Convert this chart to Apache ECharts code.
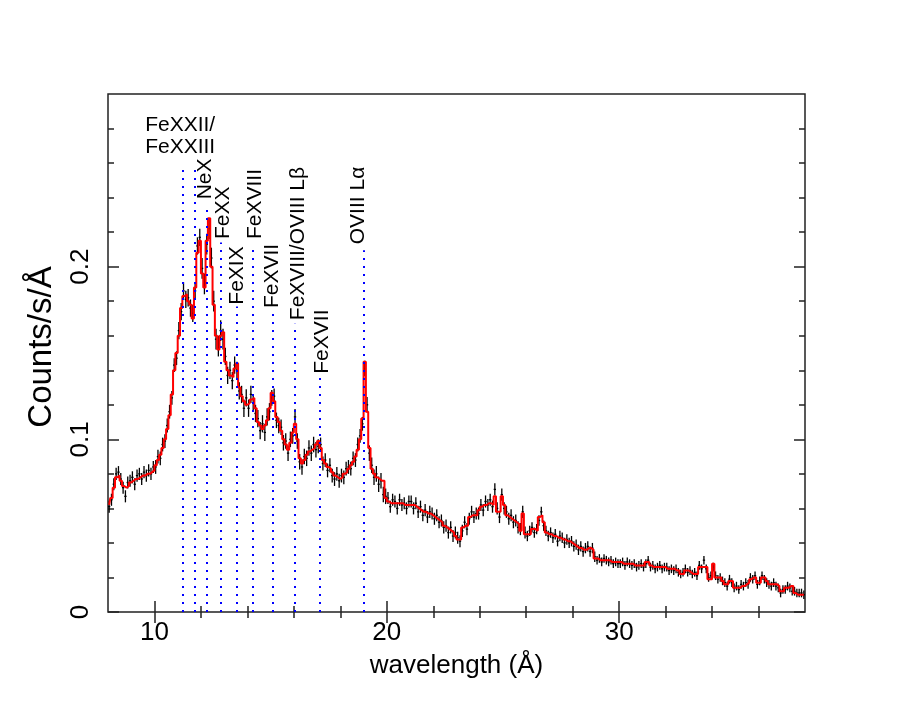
<!DOCTYPE html>
<html>
<head>
<meta charset="utf-8">
<script src="https://cdn.jsdelivr.net/npm/echarts@6/dist/echarts.min.js"></script>
<style>
  html, body { margin: 0; background: #fff; }
  #chart { width: 913px; height: 706px; }
</style>
</head>
<body>
<div id="chart"></div>
<script>
// spectral bins: 0.1 A wide, starting at 8.0 A (one row per Angstrom)
const binStart = 8.0
const binWidth = 0.1

// observed counts/s/A, one row per Angstrom (8..37)
const countsRows = [
  [0.061,0.065,0.074,0.080,0.081,0.077,0.072,0.067,0.075,0.076],
  [0.078,0.074,0.079,0.080,0.077,0.081,0.079,0.082,0.080,0.084],
  [0.084,0.090,0.089,0.097,0.099,0.108,0.116,0.124,0.143,0.147],
  [0.163,0.174,0.186,0.181,0.182,0.176,0.173,0.186,0.212,0.217],
  [0.199,0.190,0.213,0.222,0.205,0.180,0.158,0.154,0.163,0.158],
  [0.148,0.137,0.140,0.134,0.143,0.140,0.128,0.126,0.118,0.124],
  [0.118,0.126,0.121,0.115,0.112,0.105,0.109,0.104,0.113,0.116],
  [0.124,0.125,0.111,0.108,0.107,0.098,0.099,0.092,0.100,0.102],
  [0.113,0.099,0.087,0.084,0.090,0.089,0.095,0.092,0.097,0.094],
  [0.096,0.097,0.086,0.088,0.082,0.085,0.079,0.077,0.080,0.076],
  [0.079,0.078,0.083,0.084,0.083,0.089,0.088,0.097,0.102,0.109],
  [0.141,0.120,0.092,0.085,0.078,0.080,0.074,0.076,0.068,0.067],
  [0.066,0.061,0.065,0.064,0.060,0.065,0.062,0.063,0.060,0.064],
  [0.064,0.060,0.063,0.058,0.061,0.056,0.059,0.055,0.058,0.057],
  [0.054,0.056,0.052,0.053,0.049,0.050,0.046,0.049,0.044,0.046],
  [0.043,0.041,0.047,0.052,0.048,0.054,0.058,0.055,0.057,0.057],
  [0.062,0.059,0.064,0.062,0.065,0.061,0.071,0.060,0.055,0.068],
  [0.060,0.058,0.054,0.056,0.052,0.053,0.049,0.048,0.058,0.046],
  [0.044,0.047,0.049,0.046,0.048,0.053,0.058,0.050,0.047,0.044],
  [0.046,0.043,0.045,0.041,0.044,0.043,0.040,0.042,0.040,0.041],
  [0.038,0.039,0.036,0.038,0.035,0.037,0.038,0.035,0.037,0.032],
  [0.030,0.031,0.029,0.031,0.030,0.029,0.030,0.028,0.029,0.028],
  [0.028,0.029,0.027,0.029,0.028,0.027,0.028,0.026,0.027,0.028],
  [0.026,0.028,0.030,0.026,0.027,0.025,0.026,0.027,0.025,0.026],
  [0.026,0.024,0.025,0.024,0.025,0.023,0.022,0.023,0.025,0.023],
  [0.024,0.022,0.023,0.021,0.027,0.025,0.030,0.025,0.020,0.021],
  [0.026,0.021,0.019,0.020,0.018,0.017,0.015,0.019,0.017,0.014],
  [0.015,0.013,0.016,0.015,0.017,0.016,0.020,0.019,0.021,0.016],
  [0.018,0.021,0.019,0.017,0.016,0.015,0.017,0.015,0.014,0.011],
  [0.013,0.013,0.015,0.014,0.012,0.012,0.011,0.011,0.011,0.010]
]

// model (red histogram), same bins
const modelRows = [
  [0.062,0.066,0.072,0.078,0.079,0.076,0.073,0.072,0.073,0.075],
  [0.076,0.077,0.077,0.078,0.079,0.079,0.080,0.080,0.081,0.082],
  [0.085,0.088,0.091,0.095,0.100,0.106,0.114,0.126,0.140,0.150],
  [0.160,0.176,0.183,0.184,0.180,0.178,0.170,0.188,0.208,0.215],
  [0.196,0.188,0.215,0.228,0.200,0.178,0.160,0.152,0.160,0.162],
  [0.145,0.140,0.137,0.136,0.141,0.144,0.130,0.125,0.122,0.120],
  [0.121,0.123,0.124,0.118,0.110,0.108,0.106,0.108,0.111,0.118],
  [0.127,0.122,0.113,0.110,0.105,0.100,0.097,0.094,0.098,0.104],
  [0.109,0.100,0.089,0.086,0.088,0.091,0.093,0.094,0.095,0.097],
  [0.099,0.095,0.088,0.086,0.084,0.083,0.081,0.079,0.078,0.077],
  [0.078,0.080,0.081,0.083,0.085,0.087,0.090,0.094,0.100,0.112],
  [0.145,0.116,0.095,0.083,0.080,0.078,0.077,0.076,0.076,0.066],
  [0.064,0.063,0.063,0.063,0.063,0.063,0.063,0.062,0.062,0.062],
  [0.062,0.062,0.061,0.060,0.059,0.058,0.058,0.057,0.057,0.056],
  [0.055,0.054,0.053,0.052,0.050,0.049,0.048,0.047,0.046,0.044],
  [0.042,0.042,0.049,0.050,0.050,0.055,0.056,0.056,0.056,0.059],
  [0.061,0.062,0.062,0.063,0.063,0.062,0.067,0.058,0.058,0.067],
  [0.062,0.056,0.055,0.054,0.053,0.052,0.051,0.047,0.057,0.045],
  [0.045,0.045,0.048,0.048,0.047,0.055,0.056,0.052,0.046,0.045],
  [0.045,0.044,0.044,0.043,0.043,0.042,0.042,0.041,0.041,0.040],
  [0.039,0.038,0.037,0.037,0.036,0.036,0.037,0.037,0.036,0.031],
  [0.031,0.030,0.030,0.030,0.030,0.030,0.029,0.029,0.029,0.029],
  [0.029,0.028,0.028,0.028,0.028,0.028,0.027,0.027,0.027,0.027],
  [0.027,0.029,0.029,0.027,0.026,0.026,0.026,0.026,0.026,0.026],
  [0.025,0.025,0.025,0.025,0.024,0.024,0.022,0.022,0.024,0.024],
  [0.023,0.022,0.022,0.022,0.026,0.026,0.026,0.026,0.019,0.019],
  [0.028,0.020,0.020,0.020,0.018,0.016,0.016,0.018,0.018,0.014],
  [0.014,0.014,0.015,0.015,0.016,0.017,0.019,0.020,0.020,0.017],
  [0.017,0.020,0.020,0.018,0.016,0.016,0.016,0.016,0.015,0.012],
  [0.012,0.014,0.014,0.015,0.015,0.011,0.010,0.010,0.010,0.010]
]

// 1-sigma error per Angstrom row
const errByRow = [0.0035,0.0035,0.004,0.005,0.006,0.005,0.005,0.0045,0.0045,0.004,
                  0.004,0.0045,0.0035,0.0035,0.0035,0.0035,0.0035,0.0035,0.003,0.003,
                  0.003,0.0025,0.0025,0.0025,0.0025,0.0025,0.0025,0.0025,0.0025,0.0025]

// identified lines (blue dotted markers)
const lineWaves = [11.23, 11.75, 12.23, 12.86, 13.55, 14.21, 15.07, 16.03, 17.12, 19.01]
const lineTops = [0.259, 0.259, 0.236, 0.214, 0.177, 0.212, 0.173, 0.167, 0.1365, 0.2095]

// rotated line labels: text, x anchor, y where text starts
const lineLabels = ['NeX', 'FeXX', 'FeXIX', 'FeXVIII', 'FeXVII', 'FeXVIII/OVIII L\u03b2', 'FeXVII', 'OVIII L\u03b1']
const lineLabelX = [12.18, 12.96, 13.56, 14.33, 15.07, 16.18, 17.22, 18.77]
const lineLabelY = [0.239, 0.216, 0.178, 0.216, 0.176, 0.169, 0.138, 0.213]

const xMajor = [10, 20, 30]
const xMinor = [12, 14, 16, 18, 22, 24, 26, 28, 32, 34, 36]
const yMajor = [0, 0.1, 0.2]
const yMinor = [0.02, 0.04, 0.06, 0.08, 0.12, 0.14, 0.16, 0.18, 0.22, 0.24, 0.26, 0.28]

const points = []
const modelLine = []
countsRows.forEach((row, r) => {
  row.forEach((v, c) => {
    const x = +(binStart + (r * 10 + c + 0.5) * binWidth).toFixed(3)
    points.push([x, v, errByRow[r]])
    modelLine.push([x, modelRows[r][c]])
  })
})

const FONT = 'Liberation Sans, Arial, sans-serif'
const tickStyle = { color: '#222', width: 1.5 }

function xAxisDef(position, values, len, labels) {
  return {
    type: 'value', min: 8, max: 38, position,
    axisLine: { show: false }, splitLine: { show: false },
    axisTick: { show: true, inside: true, length: len, customValues: values, lineStyle: tickStyle },
    axisLabel: labels
      ? { show: true, customValues: values, fontSize: 26, color: '#000', fontFamily: FONT, margin: 8 }
      : { show: false }
  }
}
function yAxisDef(position, values, len, labels) {
  return {
    type: 'value', min: 0, max: 0.3, position,
    axisLine: { show: false }, splitLine: { show: false },
    axisTick: { show: true, inside: true, length: len, customValues: values, lineStyle: tickStyle },
    axisLabel: labels
      ? { show: true, customValues: values, fontSize: 26, color: '#000', fontFamily: FONT, margin: 14, rotate: 90,
          formatter: v => String(v) }
      : { show: false }
  }
}

const chart = echarts.init(document.getElementById('chart'))

const xAxes = [
  xAxisDef('bottom', xMajor, 11, true),
  xAxisDef('bottom', xMinor, 6, false),
  xAxisDef('top', xMajor, 11, false),
  xAxisDef('top', xMinor, 6, false)
]
xAxes[0].name = 'wavelength (\u00c5)'
xAxes[0].nameLocation = 'middle'
xAxes[0].nameGap = 41
xAxes[0].nameTextStyle = { fontSize: 26, color: '#000', fontFamily: FONT }

const yAxes = [
  yAxisDef('left', yMajor, 11, true),
  yAxisDef('left', yMinor, 6, false),
  yAxisDef('right', yMajor, 11, false),
  yAxisDef('right', yMinor, 6, false)
]
yAxes[0].name = 'Counts/s/\u00c5'
yAxes[0].nameLocation = 'middle'
yAxes[0].nameGap = 50
yAxes[0].nameRotate = 90
yAxes[0].nameTextStyle = { fontSize: 33, color: '#000', fontFamily: FONT, padding: [0, 0, 0, 12] }

const labelText = { color: '#000', fontFamily: FONT, fontSize: 21, textBorderWidth: 0, opacity: 1 }

chart.setOption({
  animation: false,
  backgroundColor: '#fff',
  grid: { left: 108, right: 108, top: 94, bottom: 94, show: true, borderColor: '#222', borderWidth: 1.5, backgroundColor: 'transparent' },
  xAxis: xAxes,
  yAxis: yAxes,
  series: [
    {
      name: 'lines',
      type: 'line',
      data: [],
      markLine: {
        silent: true,
        symbol: 'none',
        label: { show: false },
        lineStyle: { color: '#0000ff', type: [2, 6], width: 2 },
        data: lineWaves.map((w, i) => [{ coord: [w, 0] }, { coord: [w, lineTops[i]] }])
      },
      z: 1
    },
    {
      name: 'data',
      type: 'custom',
      data: points,
      renderItem: (params, api) => {
        const x = api.value(0), y = api.value(1), e = api.value(2)
        const lo = api.coord([x, y - e]), hi = api.coord([x, y + e])
        const l = api.coord([x - binWidth / 2, y]), r = api.coord([x + binWidth / 2, y])
        const style = { stroke: '#000', lineWidth: 1.3 }
        return {
          type: 'group',
          children: [
            { type: 'line', shape: { x1: lo[0], y1: lo[1], x2: hi[0], y2: hi[1] }, style },
            { type: 'line', shape: { x1: l[0], y1: l[1], x2: r[0], y2: r[1] }, style }
          ]
        }
      },
      z: 2
    },
    {
      name: 'model',
      type: 'line',
      step: 'middle',
      data: modelLine,
      showSymbol: false,
      lineStyle: { color: '#ff0000', width: 2 },
      z: 3
    },
    {
      name: 'labels',
      type: 'scatter',
      symbolSize: 0,
      silent: true,
      itemStyle: { opacity: 1 },
      data: lineLabels.map((t, i) => ({ value: [lineLabelX[i], lineLabelY[i]], name: t })),
      label: Object.assign({
        show: true, position: 'inside', rotate: 90, align: 'left', verticalAlign: 'middle',
        formatter: p => p.name
      }, labelText),
      z: 4
    },
    {
      name: 'blendLabel',
      type: 'scatter',
      symbolSize: 0,
      silent: true,
      itemStyle: { opacity: 1 },
      data: [{ value: [9.6, 0.263], name: 'FeXXII/\nFeXXIII' }],
      label: Object.assign({
        show: true, position: 'inside', align: 'left', verticalAlign: 'bottom', lineHeight: 22,
        formatter: p => p.name
      }, labelText),
      z: 4
    }
  ]
})
</script>
</body>
</html>
